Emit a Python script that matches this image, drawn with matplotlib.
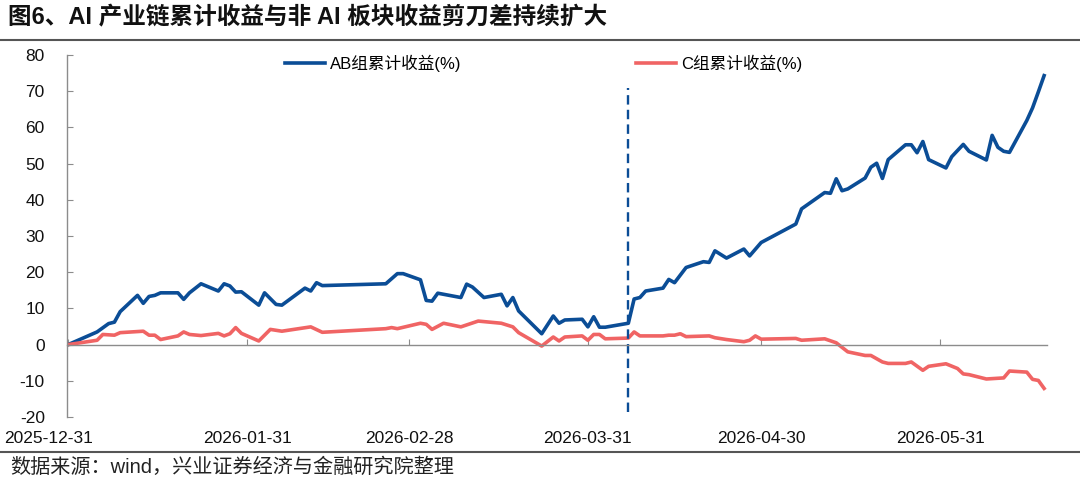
import numpy as np
import pandas as pd
import matplotlib
matplotlib.use('Agg')
import matplotlib.pyplot as plt
import matplotlib.dates as mdates
from matplotlib.lines import Line2D
from matplotlib.transforms import ScaledTranslation

plt.rcParams['font.family'] = ['Liberation Sans', 'Noto Sans CJK SC']
plt.rcParams['axes.unicode_minus'] = False

# %% data (vertices of each line) --------------------------------------------|
ab_dates = ['2025-12-31', '2026-01-05', '2026-01-07', '2026-01-08', '2026-01-09',
            '2026-01-12', '2026-01-13', '2026-01-14', '2026-01-15', '2026-01-16',
            '2026-01-19', '2026-01-20', '2026-01-21', '2026-01-23', '2026-01-26',
            '2026-01-27', '2026-01-28', '2026-01-29', '2026-01-30', '2026-02-02',
            '2026-02-03', '2026-02-05', '2026-02-06', '2026-02-10', '2026-02-11',
            '2026-02-12', '2026-02-13', '2026-02-24', '2026-02-26', '2026-02-27',
            '2026-03-02', '2026-03-03', '2026-03-04', '2026-03-05', '2026-03-06',
            '2026-03-09', '2026-03-10', '2026-03-11', '2026-03-13', '2026-03-16',
            '2026-03-17', '2026-03-18', '2026-03-19', '2026-03-23', '2026-03-25',
            '2026-03-26', '2026-03-27', '2026-03-30', '2026-03-31', '2026-04-01',
            '2026-04-02', '2026-04-03', '2026-04-07', '2026-04-08', '2026-04-09',
            '2026-04-10', '2026-04-13', '2026-04-14', '2026-04-15', '2026-04-17',
            '2026-04-20', '2026-04-21', '2026-04-22', '2026-04-24', '2026-04-27',
            '2026-04-28', '2026-04-30', '2026-05-06', '2026-05-07', '2026-05-11',
            '2026-05-12', '2026-05-13', '2026-05-14', '2026-05-15', '2026-05-18',
            '2026-05-19', '2026-05-20', '2026-05-21', '2026-05-22', '2026-05-25',
            '2026-05-26', '2026-05-27', '2026-05-28', '2026-05-29', '2026-06-01',
            '2026-06-02', '2026-06-04', '2026-06-05', '2026-06-08', '2026-06-09',
            '2026-06-10', '2026-06-11', '2026-06-12', '2026-06-15', '2026-06-16',
            '2026-06-17', '2026-06-18']
ab_values = [0.0, 3.5, 5.8, 6.2, 9.1,
             13.6, 11.4, 13.3, 13.6, 14.3,
             14.3, 12.5, 14.3, 16.8, 14.8,
             16.8, 16.2, 14.5, 14.6, 10.9,
             14.3, 11.1, 10.9, 15.6, 14.8,
             17.1, 16.3, 16.8, 19.6, 19.6,
             17.9, 12.2, 12.0, 14.2, 13.9,
             13.0, 16.7, 15.9, 13.0, 13.9,
             10.7, 13.0, 9.3, 3.0, 7.9,
             5.9, 6.8, 7.0, 4.9, 7.7,
             4.8, 4.8, 5.9, 12.6, 13.0,
             14.8, 15.6, 18.0, 17.1, 21.3,
             22.9, 22.7, 25.9, 23.9, 26.4,
             24.5, 28.2, 33.3, 37.5, 42.0,
             41.8, 45.8, 42.5, 43.0, 46.0,
             49.0, 50.1, 45.9, 51.1, 55.2,
             55.2, 53.0, 56.1, 51.1, 48.8,
             51.9, 55.3, 53.4, 51.0, 57.8,
             54.5, 53.4, 53.1, 61.9, 65.4,
             69.8, 74.3]

c_dates = ['2025-12-31', '2026-01-05', '2026-01-06', '2026-01-08', '2026-01-09',
           '2026-01-13', '2026-01-14', '2026-01-15', '2026-01-16', '2026-01-19',
           '2026-01-20', '2026-01-21', '2026-01-23', '2026-01-26', '2026-01-27',
           '2026-01-28', '2026-01-29', '2026-01-30', '2026-02-02', '2026-02-04',
           '2026-02-06', '2026-02-11', '2026-02-13', '2026-02-24', '2026-02-25',
           '2026-02-26', '2026-03-02', '2026-03-03', '2026-03-04', '2026-03-06',
           '2026-03-09', '2026-03-12', '2026-03-16', '2026-03-18', '2026-03-19',
           '2026-03-23', '2026-03-25', '2026-03-26', '2026-03-27', '2026-03-30',
           '2026-03-31', '2026-04-01', '2026-04-02', '2026-04-03', '2026-04-07',
           '2026-04-08', '2026-04-09', '2026-04-13', '2026-04-14', '2026-04-15',
           '2026-04-16', '2026-04-17', '2026-04-21', '2026-04-22', '2026-04-24',
           '2026-04-27', '2026-04-28', '2026-04-29', '2026-04-30', '2026-05-06',
           '2026-05-07', '2026-05-11', '2026-05-13', '2026-05-15', '2026-05-18',
           '2026-05-19', '2026-05-21', '2026-05-22', '2026-05-25', '2026-05-26',
           '2026-05-28', '2026-05-29', '2026-06-01', '2026-06-03', '2026-06-04',
           '2026-06-05', '2026-06-08', '2026-06-11', '2026-06-12', '2026-06-15',
           '2026-06-16', '2026-06-17', '2026-06-18']
c_values = [0.0, 1.2, 2.8, 2.6, 3.3,
            3.7, 2.6, 2.6, 1.4, 2.4,
            3.5, 2.8, 2.5, 3.1, 2.4,
            3.0, 4.7, 3.1, 1.0, 4.2,
            3.7, 4.9, 3.4, 4.4, 4.7,
            4.4, 5.9, 5.6, 4.2, 5.9,
            4.9, 6.5, 5.9, 4.9, 3.3,
            -0.4, 2.1, 1.0, 2.1, 2.4,
            1.2, 2.8, 2.8, 1.6, 1.8,
            3.5, 2.4, 2.4, 2.6, 2.6,
            3.0, 2.2, 2.4, 1.9, 1.4,
            0.8, 1.2, 2.4, 1.5, 1.7,
            1.2, 1.6, 0.5, -2.0, -3.0,
            -3.0, -4.8, -5.2, -5.2, -4.8,
            -7.1, -6.0, -5.3, -6.6, -8.1,
            -8.3, -9.5, -9.2, -7.3, -7.6,
            -9.6, -9.9, -12.1]

split_date = '2026-04-07'
tick_dates = ['2025-12-31', '2026-01-31', '2026-02-28',
              '2026-03-31', '2026-04-30', '2026-05-31']

ab_label = 'AB组累计收益(%)'
c_label = 'C组累计收益(%)'
title = '图6、AI 产业链累计收益与非 AI 板块收益剪刀差持续扩大'
source = '数据来源：wind，兴业证券经济与金融研究院整理'

blue = '#0B4D96'
red = '#F06464'

# %% figure -------------------------------------------------------------------|
fig = plt.figure(figsize=(10.8, 4.82), dpi=100)
ax = fig.add_axes([67/1080, 1 - 417/482, 980/1080, 362/482])

ab_x = pd.to_datetime(ab_dates)
c_x = pd.to_datetime(c_dates)
ax.plot(ab_x, ab_values, color=blue, lw=2.6, label=ab_label,
        solid_joinstyle='round')
ax.plot(c_x, c_values, color=red, lw=2.6, label=c_label,
        solid_joinstyle='round')
ax.vlines(pd.to_datetime(split_date), -18.5, 71, color=blue, lw=1.7,
          linestyles=(0, (4, 2.2)))

ax.set_ylim(-20, 80)
ax.set_yticks(np.arange(-20, 81, 10))
x0 = pd.Timestamp('2025-12-31') - pd.Timedelta(hours=5)
x1 = pd.Timestamp('2026-06-18') + pd.Timedelta(hours=12)
ax.set_xlim(x0, x1)
ax.set_xticks(pd.to_datetime(tick_dates))
ax.xaxis.set_major_formatter(mdates.DateFormatter('%Y-%m-%d'))

for s in ['top', 'right']:
    ax.spines[s].set_visible(False)
ax.spines['left'].set_color('#8c8c8c')
ax.spines['bottom'].set_color('#8c8c8c')
ax.spines['bottom'].set_position(('data', 0))
ax.spines['left'].set_linewidth(1.0)
ax.spines['bottom'].set_linewidth(1.0)

ax.tick_params(axis='y', direction='in', length=4, color='#8c8c8c',
               labelsize=12.5, pad=16, labelcolor='#111111')
ax.tick_params(axis='x', direction='in', length=4, color='#8c8c8c',
               labelsize=12.5, pad=62, labelcolor='#111111')

# first date label sits left of its tick, as in the original
lab0 = ax.get_xticklabels()[0]
lab0.set_transform(lab0.get_transform()
                   + ScaledTranslation(-0.2, 0, fig.dpi_scale_trans))

ax.legend(loc='upper left', bbox_to_anchor=(0.2224, 1.0), ncol=2,
          frameon=False, fontsize=12, handlelength=2.4, handletextpad=0.3,
          columnspacing=10.5, borderpad=0, borderaxespad=0)

# title, rules and source
fig.text(8/1080, 1 - 18/482, title, fontsize=17, fontweight='bold',
         va='center', ha='left', color='#111111')
fig.add_artist(Line2D([0, 1], [1 - 40/482] * 2, transform=fig.transFigure,
                      color='#555555', lw=1.5))
fig.add_artist(Line2D([0, 1], [1 - 452/482] * 2, transform=fig.transFigure,
                      color='#555555', lw=1.5))
fig.text(10/1080, 1 - 467/482, source, fontsize=14.5, va='center', ha='left',
         color='#222222')

plt.savefig('out.png', dpi=100)
